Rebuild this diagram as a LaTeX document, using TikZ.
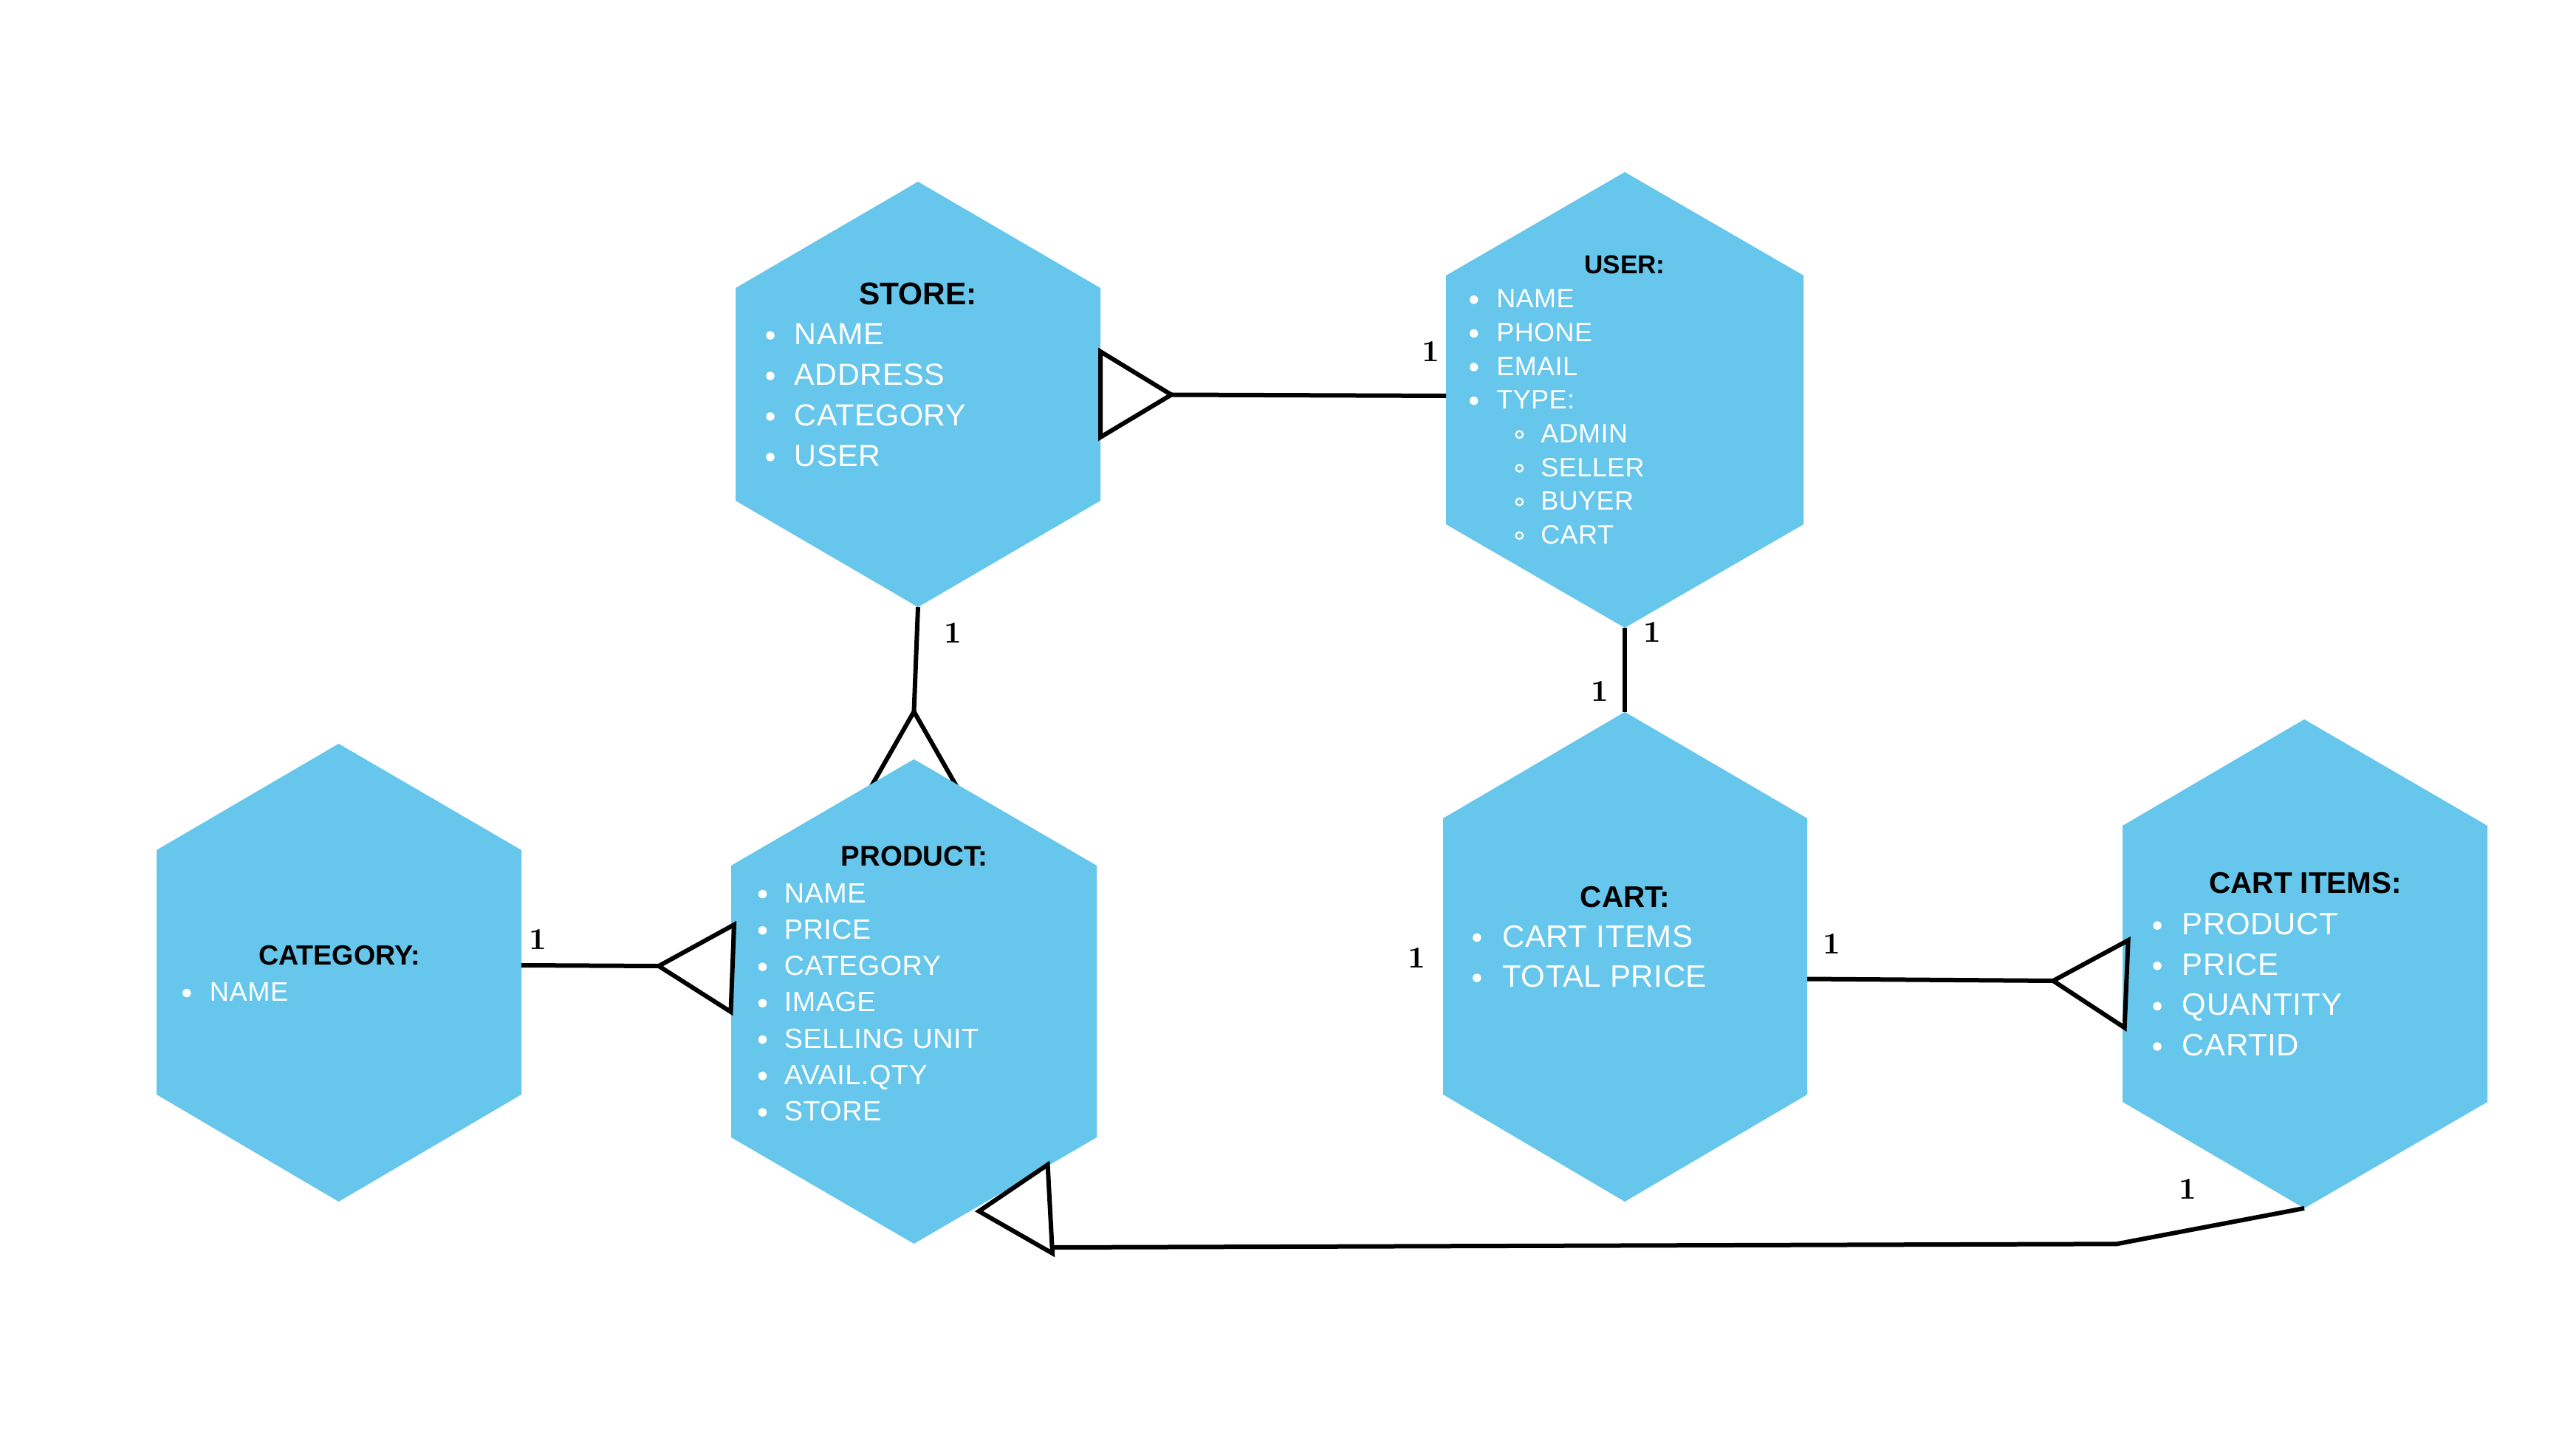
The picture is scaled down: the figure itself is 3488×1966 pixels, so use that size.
\documentclass[tikz,border=0pt]{standalone}
\usepackage{fontspec}
\newfontfamily\sansfam{Liberation Sans}
\newfontfamily\sansfamsp{Liberation Sans}[LetterSpace=1.5]
\definecolor{hexblue}{HTML}{66C6EB}
\newcommand\hexa[8]{%
  \coordinate (#1-t) at (#2,#3);
  \coordinate (#1-ur) at (#5,#6);
  \coordinate (#1-lr) at (#5,#7);
  \coordinate (#1-b) at (#2,#8);
  \coordinate (#1-ll) at (#4,#7);
  \coordinate (#1-ul) at (#4,#6);
  \fill[hexfill] (#1-t) -- (#1-ur) -- (#1-lr) -- (#1-b) -- (#1-ll) -- (#1-ul) -- cycle;}
\begin{document}
\begin{tikzpicture}[x=0.25pt,y=-0.25pt,
  hexfill/.style={fill=hexblue},
  conn/.style={line width=1.5pt, draw=black, line join=miter},
  ttl/.style={font={\sansfam\bfseries\fontsize{#1}{#1}\selectfont}, inner sep=0pt, anchor=base, text=black},
  itm/.style={font={\sansfamsp\fontsize{#1}{#1}\selectfont}, inner sep=0pt, anchor=base west, text=white},
  one/.style={font={\bfseries\fontsize{10.3pt}{10.3pt}\selectfont}, inner sep=0pt, text=black},
  dotb/.style={fill=white},
  ringb/.style={draw=white, line width=0.55pt}
]
\fill[white] (0,0) rectangle (3488,1966);
\useasboundingbox (0,0) rectangle (3488,1966);

% crow's foot behind PRODUCT (store -> product)
\coordinate (sp-apex) at (1237.5,963.5);
\coordinate (sp-l) at (1171,1080);
\coordinate (sp-r) at (1304,1080);
\draw[conn] (sp-l) -- (sp-apex) -- (sp-r) -- cycle;

% hexagons
\hexa{store}{1243}{246}{996}{1490}{390}{678}{822}
\hexa{user}{2200}{233}{1958}{2442}{373}{710}{850}
\hexa{product}{1237.5}{1028}{990}{1485}{1172}{1540}{1684}
\hexa{category}{458.5}{1007}{212}{706}{1151}{1482}{1627}
\hexa{cart}{2200}{964}{1954}{2447}{1108}{1482}{1627}
\hexa{items}{3120}{974}{2874}{3368}{1118}{1492}{1636}

% STORE
\node[ttl=10.6pt] (store-title) at (1243,412.7) {STORE:};
\foreach \t [count=\i from 0] in {NAME,ADDRESS,CATEGORY,USER}{
  \pgfmathsetmacro\yy{466.5+\i*54.93}
  \fill[dotb] (1043,{\yy-12.4}) circle[radius=1.44pt];
  \node[itm=10.33pt] (store-a\i) at (1075,\yy) {\t};
}

% USER
\node[ttl=8.75pt] (user-title) at (2200,370.3) {USER:};
\foreach \l/\t [count=\i from 0] in {1/NAME,1/PHONE,1/EMAIL,1/TYPE:,2/ADMIN,2/SELLER,2/BUYER,2/CART}{
  \pgfmathsetmacro\yy{417+\i*45.63}
  \ifnum\l=1
    \fill[dotb] (1995.7,{\yy-11.2}) circle[radius=1.44pt];
    \node[itm=8.97pt] (user-a\i) at (2025.5,\yy) {\t};
  \else
    \draw[ringb] (2057.3,{\yy-11.2}) circle[radius=1.19pt];
    \node[itm=8.97pt] (user-a\i) at (2085.5,\yy) {\t};
  \fi
}

% PRODUCT
\node[ttl=9.6pt] (product-title) at (1238,1172) {PRODUCT:};
\foreach \t [count=\i from 0] in {NAME,PRICE,CATEGORY,IMAGE,SELLING UNIT,AVAIL.QTY,STORE}{
  \pgfmathsetmacro\yy{1222+\i*49.27}
  \fill[dotb] (1032.5,{\yy-11.5}) circle[radius=1.44pt];
  \node[itm=9.43pt] (product-a\i) at (1061,\yy) {\t};
}

% CATEGORY
\node[ttl=9.4pt] (category-title) at (459.6,1306.8) {CATEGORY:};
\fill[dotb] (252.9,1344.6) circle[radius=1.44pt];
\node[itm=9.08pt] (category-a0) at (283,1355.7) {NAME};

% CART
\node[ttl=10.1pt] (cart-title) at (2200.5,1228.6) {CART:};
\foreach \t [count=\i from 0] in {CART ITEMS,TOTAL PRICE}{
  \pgfmathsetmacro\yy{1282+\i*54.6}
  \fill[dotb] (1999.8,{\yy-12.5}) circle[radius=1.44pt];
  \node[itm=10.48pt] (cart-a\i) at (2033.5,\yy) {\t};
}

% CART ITEMS
\node[ttl=10.1pt] (items-title) at (3121.7,1209.8) {CART ITEMS:};
\foreach \t [count=\i from 0] in {PRODUCT,PRICE,QUANTITY,CARTID}{
  \pgfmathsetmacro\yy{1265.6+\i*54.63}
  \fill[dotb] (2921,{\yy-12.5}) circle[radius=1.44pt];
  \node[itm=10.48pt] (items-a\i) at (2954,\yy) {\t};
}

% STORE -- USER
\coordinate (su-b1) at (1490,476);
\coordinate (su-b2) at (1490,592);
\coordinate (su-tip) at (1586,534.5);
\coordinate (su-end) at (1958,536);
\draw[conn] (su-b1) -- (su-tip) -- (su-b2) -- cycle;
\draw[conn] (su-tip) -- (su-end);
\node[one] (l-su) at (1937,476) {1};

% STORE -- PRODUCT
\draw[conn] (store-b) -- (sp-apex);
\node[one] (l-sp) at (1290,857) {1};

% CATEGORY -- PRODUCT
\coordinate (cp-start) at (706,1307);
\coordinate (cp-tip) at (892,1308);
\coordinate (cp-b1) at (994,1252);
\coordinate (cp-b2) at (989.5,1370);
\draw[conn] (cp-start) -- (cp-tip);
\draw[conn] (cp-b1) -- (cp-tip) -- (cp-b2) -- cycle;
\node[one] (l-cp) at (728,1272) {1};

% USER -- CART
\draw[conn] (user-b) -- (cart-t);
\node[one] (l-uc1) at (2237,856) {1};
\node[one] (l-uc2) at (2166,936) {1};
\node[one] (l-cart) at (1918,1297) {1};

% CART -- CART ITEMS
\coordinate (ci-start) at (2447,1325.5);
\coordinate (ci-tip) at (2780,1328);
\coordinate (ci-b1) at (2881.6,1273.2);
\coordinate (ci-b2) at (2876.7,1391.5);
\draw[conn] (ci-start) -- (ci-tip);
\draw[conn] (ci-b1) -- (ci-tip) -- (ci-b2) -- cycle;
\node[one] (l-ci) at (2480,1278) {1};

% CART ITEMS -- PRODUCT
\coordinate (ip-bend) at (2866,1684.3);
\coordinate (ip-end) at (1425,1689);
\coordinate (ip-b1) at (1418.6,1577);
\coordinate (ip-b2) at (1425,1697);
\coordinate (ip-tip) at (1325.5,1640);
\draw[conn] (items-b) -- (ip-bend) -- (ip-end);
\draw[conn] (ip-b1) -- (ip-tip) -- (ip-b2) -- cycle;
\node[one] (l-ip) at (2962,1610) {1};
\end{tikzpicture}
\end{document}
